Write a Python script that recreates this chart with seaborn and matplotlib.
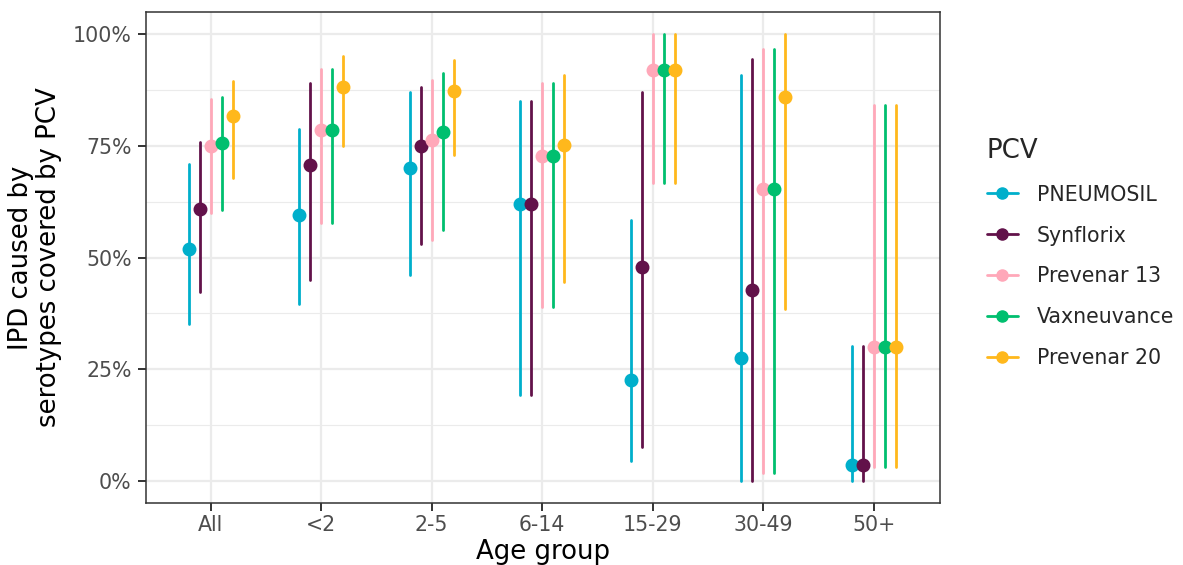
import numpy as np
import pandas as pd
import matplotlib
matplotlib.use("Agg")
import matplotlib.pyplot as plt
from matplotlib.lines import Line2D
from matplotlib.ticker import PercentFormatter, MultipleLocator
import seaborn as sns

# ---------------- data ----------------
age_groups = ["All", "<2", "2-5", "6-14", "15-29", "30-49", "50+"]
vaccines = ["PNEUMOSIL", "Synflorix", "Prevenar 13", "Vaxneuvance", "Prevenar 20"]

pneumosil_est = [52.0, 59.5, 70.0, 62.0, 22.5, 27.5, 3.6]
pneumosil_lo = [35.0, 39.5, 46.0, 19.2, 4.3, 0.0, 0.0]
pneumosil_hi = [71.0, 78.7, 87.0, 85.0, 58.5, 90.8, 30.2]

synflorix_est = [60.8, 70.8, 75.0, 62.0, 47.9, 42.7, 3.6]
synflorix_lo = [42.3, 45.0, 53.0, 19.2, 7.6, 0.0, 0.0]
synflorix_hi = [75.8, 89.0, 88.3, 85.0, 87.0, 94.5, 30.2]

prevenar13_est = [75.0, 78.6, 76.4, 72.7, 92.0, 65.4, 29.9]
prevenar13_lo = [60.0, 57.8, 54.0, 39.0, 66.6, 1.7, 3.0]
prevenar13_hi = [85.5, 92.3, 89.7, 89.2, 100.0, 96.8, 84.1]

vaxneuvance_est = [75.7, 78.6, 78.1, 72.7, 92.0, 65.4, 29.9]
vaxneuvance_lo = [60.6, 57.8, 56.2, 39.0, 66.6, 1.7, 3.0]
vaxneuvance_hi = [85.9, 92.3, 91.4, 89.2, 100.0, 96.8, 84.1]

prevenar20_est = [81.6, 88.1, 87.2, 75.3, 92.0, 85.9, 29.9]
prevenar20_lo = [67.7, 74.9, 72.9, 44.5, 66.6, 38.4, 3.0]
prevenar20_hi = [89.5, 95.1, 94.3, 90.8, 100.0, 100.0, 84.1]

colors = ["#00AFCB", "#62124A", "#FFA8B9", "#00BF6F", "#FFB81C"]

series = {
    "PNEUMOSIL": (pneumosil_est, pneumosil_lo, pneumosil_hi),
    "Synflorix": (synflorix_est, synflorix_lo, synflorix_hi),
    "Prevenar 13": (prevenar13_est, prevenar13_lo, prevenar13_hi),
    "Vaxneuvance": (vaxneuvance_est, vaxneuvance_lo, vaxneuvance_hi),
    "Prevenar 20": (prevenar20_est, prevenar20_lo, prevenar20_hi),
}

# long table: three rows (lo, est, hi) per group/vaccine; median = estimate, min/max = interval
rows = []
for v in vaccines:
    est, lo, hi = series[v]
    for g, e, l, h in zip(age_groups, est, lo, hi):
        for val in (l, e, h):
            rows.append({"Age group": g, "PCV": v, "value": val})
df = pd.DataFrame(rows)

# ---------------- plot ----------------
sns.set_theme(style="white")
plt.rcParams["font.family"] = ["DejaVu Sans"]

fig = plt.figure(figsize=(11.83, 5.65), dpi=100)
ax = fig.add_axes([146 / 1183, 62 / 565, 794 / 1183, 491 / 565])

sns.pointplot(
    data=df, x="Age group", y="value", hue="PCV",
    order=age_groups, hue_order=vaccines, palette=colors,
    estimator="median", errorbar=lambda x: (np.min(x), np.max(x)),
    dodge=0.4, linestyle="none", markers="o", markersize=8.0,
    err_kws={"linewidth": 2.0}, ax=ax, legend=False,
)

ax.set_xlim(-0.585, 6.6)
ax.set_ylim(-5, 105)
ax.yaxis.set_major_locator(MultipleLocator(25))
ax.yaxis.set_minor_locator(MultipleLocator(12.5))
ax.yaxis.set_major_formatter(PercentFormatter(decimals=0))

ax.set_axisbelow(True)
ax.grid(True, which="major", axis="both", color="#EBEBEB", linewidth=1.6)
ax.grid(True, which="minor", axis="y", color="#EBEBEB", linewidth=0.8)
for s in ax.spines.values():
    s.set_color("#333333")
    s.set_linewidth(1.1)

ax.tick_params(axis="both", which="major", length=5.8, width=1.4, color="#333333",
               labelsize=14.8, labelcolor="#4D4D4D")
ax.tick_params(axis="y", which="major", pad=4.5, left=True)
ax.tick_params(axis="x", which="major", pad=3, bottom=True)
ax.tick_params(axis="y", which="minor", length=0)

ax.set_xlabel("Age group", fontsize=18.7, color="black", labelpad=3)
ax.set_ylabel("IPD caused by\nserotypes covered by PCV", fontsize=18.7, color="black",
              labelpad=8, linespacing=1.1)

handles = [
    Line2D([0], [0], color=c, linewidth=2.0, marker="o", markersize=8.0)
    for c in colors
]
leg = fig.legend(
    handles, vaccines, title="PCV", loc="center left",
    bbox_to_anchor=(968 / 1183, 1 - 253 / 565), frameon=False,
    fontsize=14.8, title_fontsize=18.7, handlelength=1.55,
    handletextpad=0.9, labelspacing=1.02, alignment="left",
)

fig.savefig("out.png", dpi=100)
